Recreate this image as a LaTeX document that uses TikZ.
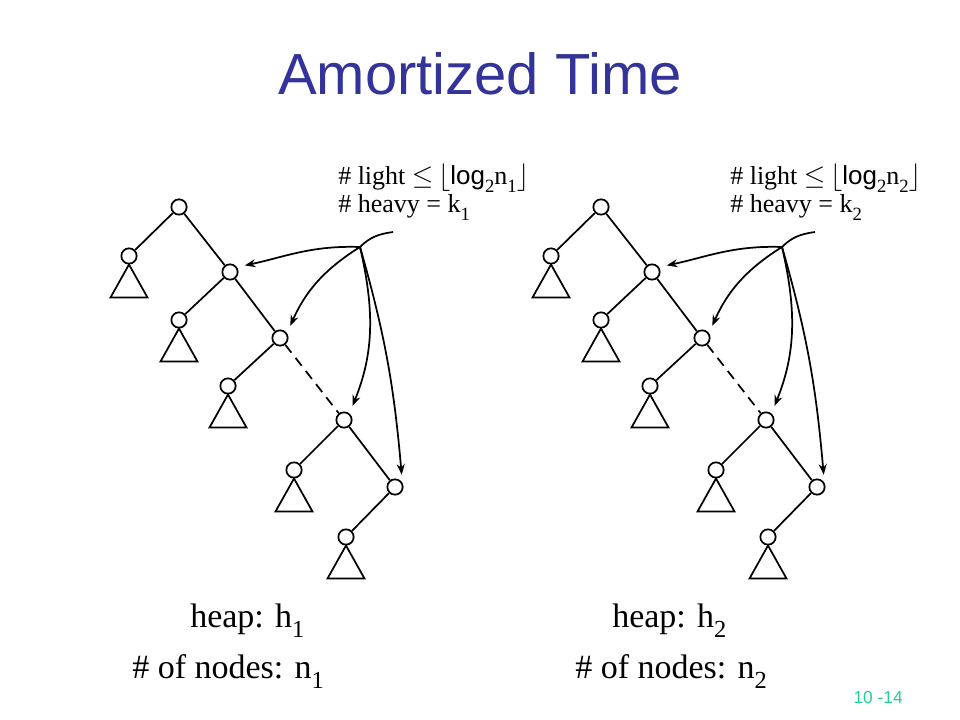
\documentclass[tikz,border=0pt]{standalone}
\usepackage{fontspec}
\setmainfont{Liberation Serif}
\setsansfont{Liberation Sans}
\usetikzlibrary{arrows.meta}

\definecolor{titleblue}{RGB}{51,51,153}
\definecolor{pagegreen}{RGB}{32,208,150}

\newcommand{\subtree}[1]{\draw[tline] (#1.south) -- ++(-18.5,-33) -- ++(37,0) -- cycle;}
\newcommand{\lowsub}[1]{\raisebox{-0.3em}{\scalebox{0.72}{#1}}}

\tikzset{
  hnode/.style={circle,draw,line width=1.3pt,inner sep=0pt,minimum size=11.5pt},
  tline/.style={line width=1.3pt},
  ptr/.style={line width=1.3pt,-{Stealth[length=8pt,width=6pt]},shorten >=6pt},
  small/.style={font=\fontsize{19.5}{23}\selectfont,inner sep=0pt},
  big/.style={font=\fontsize{25.5}{30}\selectfont,inner sep=0pt}
}

\begin{document}
\begin{tikzpicture}
  [x=0.75pt,y=0.75pt]
  \useasboundingbox (0,0) rectangle (960,-720);

  \node[anchor=base,inner sep=0pt,text=titleblue,font=\sffamily\fontsize{43.5}{50}\selectfont]
    (title) at (480,-95) {Amortized Time};

  % heap h1
  \node[hnode] (R1) at (179,-207) {};
  \node[hnode] (a1) at (129,-256) {};
  \node[hnode] (b1) at (230,-272) {};
  \node[hnode] (c1) at (179,-320) {};
  \node[hnode] (d1) at (280,-338) {};
  \node[hnode] (e1) at (228,-386) {};
  \node[hnode] (f1) at (344,-420) {};
  \node[hnode] (g1) at (294,-470) {};
  \node[hnode] (h1) at (395,-487) {};
  \node[hnode] (i1) at (346,-537) {};

  \path[draw,tline]
     (R1) edge (a1)
     (R1) edge (b1)
     (b1) edge (c1)
     (b1) edge (d1)
     (d1) edge (e1)
     (d1) edge[dash pattern=on 7.5pt off 5pt] (f1)
     (f1) edge (g1)
     (f1) edge (h1)
     (h1) edge (i1);

  \subtree{a1} \subtree{c1} \subtree{e1} \subtree{g1} \subtree{i1}

  \node[small,anchor=base west] (light1) at (338,-185)
    {\# light ${\leq}\,\lfloor$\textsf{log}\lowsub{2}n\lowsub{1}$\rfloor$};
  \node[small,anchor=base west] (heavy1) at (338,-213) {\# heavy = k\lowsub{1}};

  \coordinate (src1) at (393,-232);
  \coordinate (hub1) at (360,-247);
  \draw[tline] (src1) to[out=188,in=45] (hub1);
  \draw[ptr] (hub1) to[out=178,in=12] (b1.35);
  \draw[ptr] (hub1) to[out=212,in=66] (d1.35);
  \draw[ptr] (hub1) to[out=-77,in=68] (f1.50);
  \draw[ptr] (hub1) to[out=-74,in=95] (h1.30);

  \node[big,anchor=base west] (heap1) at (190,-627) {heap: h\lowsub{1}};
  \node[big,anchor=base west] (size1) at (132,-678) {\# of nodes: n\lowsub{1}};

  % heap h2
  \node[hnode] (R2) at (601,-207) {};
  \node[hnode] (a2) at (551,-256) {};
  \node[hnode] (b2) at (652,-272) {};
  \node[hnode] (c2) at (601,-320) {};
  \node[hnode] (d2) at (702,-338) {};
  \node[hnode] (e2) at (650,-386) {};
  \node[hnode] (f2) at (766,-420) {};
  \node[hnode] (g2) at (716,-470) {};
  \node[hnode] (h2) at (817,-487) {};
  \node[hnode] (i2) at (768,-537) {};

  \path[draw,tline]
     (R2) edge (a2)
     (R2) edge (b2)
     (b2) edge (c2)
     (b2) edge (d2)
     (d2) edge (e2)
     (d2) edge[dash pattern=on 7.5pt off 5pt] (f2)
     (f2) edge (g2)
     (f2) edge (h2)
     (h2) edge (i2);

  \subtree{a2} \subtree{c2} \subtree{e2} \subtree{g2} \subtree{i2}

  \node[small,anchor=base west] (light2) at (730,-185)
    {\# light ${\leq}\,\lfloor$\textsf{log}\lowsub{2}n\lowsub{2}$\rfloor$};
  \node[small,anchor=base west] (heavy2) at (730,-213) {\# heavy = k\lowsub{2}};

  \coordinate (src2) at (815,-232);
  \coordinate (hub2) at (782,-247);
  \draw[tline] (src2) to[out=188,in=45] (hub2);
  \draw[ptr] (hub2) to[out=178,in=12] (b2.35);
  \draw[ptr] (hub2) to[out=212,in=66] (d2.35);
  \draw[ptr] (hub2) to[out=-77,in=68] (f2.50);
  \draw[ptr] (hub2) to[out=-74,in=95] (h2.30);

  \node[big,anchor=base west] (heap2) at (612,-627) {heap: h\lowsub{2}};
  \node[big,anchor=base west] (size2) at (575,-678) {\# of nodes: n\lowsub{2}};

  \node[anchor=base east,inner sep=0pt,text=pagegreen,font=\sffamily\fontsize{13}{15}\selectfont]
    (page) at (903,-703) {10 -14};
\end{tikzpicture}
\end{document}
